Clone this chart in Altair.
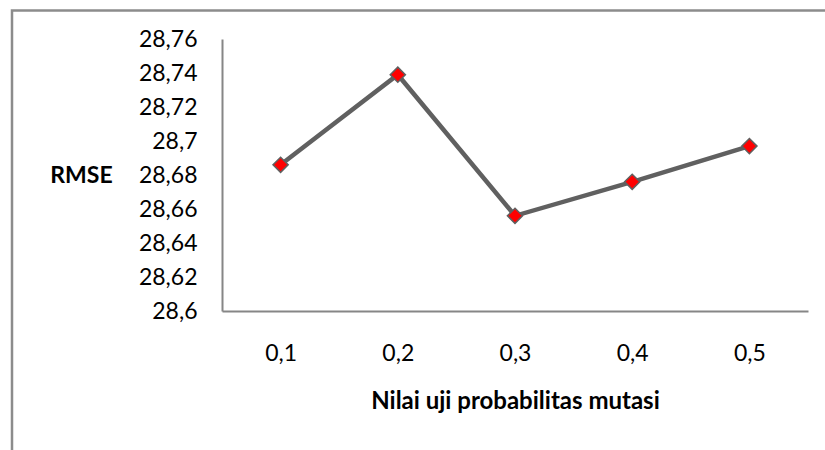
import altair as alt
import pandas as pd

categories = ["0,1", "0,2", "0,3", "0,4", "0,5"]
rmse = [28.686, 28.739, 28.656, 28.676, 28.697]
y_ticks = [28.6, 28.62, 28.64, 28.66, 28.68, 28.7, 28.72, 28.74, 28.76]

df = pd.DataFrame({"p": categories, "rmse": rmse})

FONT = "Lato"

x_enc = alt.X(
    "p:O",
    sort=categories,
    scale=alt.Scale(type="point", padding=0.5),
    axis=alt.Axis(
        title="Nilai uji probabilitas mutasi",
        labelAngle=0,
        ticks=False,
        tickSize=0,
        domainColor="#868686",
        domainWidth=2,
        labelFont=FONT,
        labelFontSize=23,
        labelColor="#000000",
        labelBaseline="middle",
        labelPadding=42,
        labelOverlap=False,
        titleFont=FONT,
        titleFontSize=24,
        titleFontWeight="bold",
        titleColor="#000000",
        titleBaseline="middle",
        titleY=90,
        grid=False,
    ),
)
y_enc = alt.Y(
    "rmse:Q",
    scale=alt.Scale(domain=[28.6, 28.76], nice=False, zero=False),
    axis=alt.Axis(
        title="RMSE",
        values=y_ticks,
        labelExpr="replace(format(datum.value, '.2~f'), '.', ',')",
        labelOverlap=False,
        labelSeparation=0,
        ticks=False,
        tickSize=0,
        domainColor="#868686",
        domainWidth=2,
        labelFont=FONT,
        labelFontSize=23,
        labelColor="#000000",
        labelPadding=25,
        labelBaseline="middle",
        titleFont=FONT,
        titleFontSize=23,
        titleFontWeight="bold",
        titleColor="#000000",
        titleAngle=0,
        titleAlign="center",
        titleBaseline="middle",
        titleX=-141,
        titleY=136,
        grid=False,
    ),
)

line = alt.Chart(df).mark_line(
    color="#606060",
    strokeWidth=4.5,
    point=alt.OverlayMarkDef(
        shape="diamond", filled=True, fill="#ff0000", stroke="#606060",
        strokeWidth=1.5, size=230, opacity=1,
    ),
).encode(x=x_enc, y=y_enc)

frame = alt.Chart(pd.DataFrame({"a": [0]})).mark_rect(
    fill=None, fillOpacity=0, stroke="#8c8c8c", strokeWidth=2.5
).encode(
    x=alt.value(-210), x2=alt.value(800), y=alt.value(-28.5), y2=alt.value(500)
)

chart = alt.layer(frame, line).properties(
    width=586,
    height=272,
    autosize=alt.AutoSizeParams(type="none"),
    padding={"left": 222, "top": 39, "right": 17, "bottom": 139},
    background="#ffffff",
).configure_view(strokeWidth=0, stroke="transparent")

chart.save("out.html", embed_options={"renderer": "svg", "actions": False})
